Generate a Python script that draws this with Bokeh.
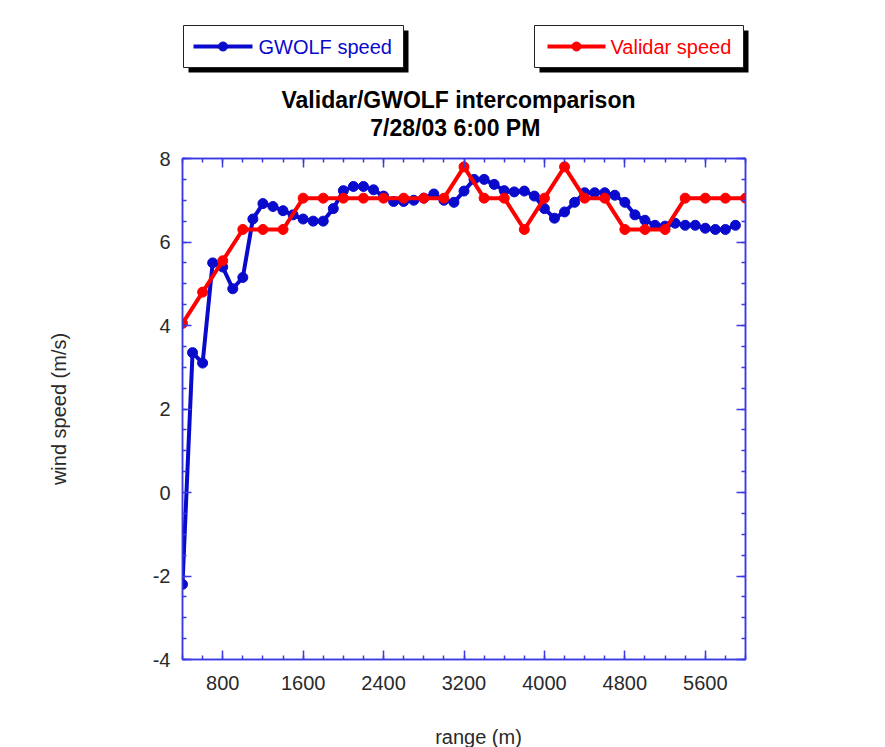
from bokeh.plotting import figure
from bokeh.models import Range1d, LinearAxis, SingleIntervalTicker, PrintfTickFormatter
from bokeh.layouts import column
from bokeh.embed import file_html
from bokeh.resources import INLINE
from bokeh.core.properties import value

# ---------------- data ----------------
gwolf_range = [400, 500, 600, 700, 800, 900, 1000, 1100, 1200, 1300, 1400, 1500,
               1600, 1700, 1800, 1900, 2000, 2100, 2200, 2300, 2400, 2500, 2600,
               2700, 2800, 2900, 3000, 3100, 3200, 3300, 3400, 3500, 3600, 3700,
               3800, 3900, 4000, 4100, 4200, 4300, 4400, 4500, 4600, 4700, 4800,
               4900, 5000, 5100, 5200, 5300, 5400, 5500, 5600, 5700, 5800, 5900]
gwolf_speed = [-2.2, 3.35, 3.1, 5.5, 5.4, 4.88, 5.15, 6.55, 6.92, 6.85, 6.75, 6.65,
               6.55, 6.5, 6.5, 6.8, 7.23, 7.33, 7.33, 7.25, 7.1, 6.97, 6.97,
               7.0, 7.05, 7.15, 7.0, 6.95, 7.22, 7.5, 7.5, 7.38, 7.23, 7.2,
               7.22, 7.1, 6.8, 6.57, 6.72, 6.95, 7.18, 7.18, 7.18, 7.12, 6.95,
               6.65, 6.52, 6.4, 6.38, 6.45, 6.4, 6.4, 6.33, 6.3, 6.3, 6.4]

validar_range = [400, 600, 800, 1000, 1200, 1400, 1600, 1800, 2000, 2200, 2400,
                 2600, 2800, 3000, 3200, 3400, 3600, 3800, 4000, 4200, 4400, 4600,
                 4800, 5000, 5200, 5400, 5600, 5800, 6000]
validar_speed = [4.05, 4.8, 5.55, 6.3, 6.3, 6.3, 7.05, 7.05, 7.05, 7.05, 7.05,
                 7.05, 7.05, 7.05, 7.8, 7.05, 7.05, 6.3, 7.05, 7.8, 7.05, 7.05,
                 6.3, 6.3, 6.3, 7.05, 7.05, 7.05, 7.05]

series_labels = ["GWOLF speed", "Validar speed"]
title_lines = ["Validar/GWOLF intercomparison", "7/28/03  6:00 PM"]
x_label = "range (m)"
y_label = "wind speed (m/s)"

BLUE = "#0a0acc"
RED = "#ff0000"
AXC = "#3a3ae2"
FONT = "Liberation Sans"
TXT = "#2a2a2a"

W = 885
HEAD_H = 144
FOOT_H = 30
MAIN_H = 747 - HEAD_H - FOOT_H


def blank_panel(h):
    f = figure(width=W, height=h, x_range=Range1d(0, W), y_range=Range1d(h, 0),
               output_backend="svg", toolbar_location=None,
               x_axis_type=None, y_axis_type=None,
               min_border=0, min_border_left=0, min_border_right=0,
               min_border_top=0, min_border_bottom=0)
    f.frame_align = False
    f.outline_line_color = None
    f.grid.visible = False
    f.background_fill_color = "white"
    f.border_fill_color = "white"
    return f


# ---------------- header (legend boxes + title) ----------------
head = blank_panel(HEAD_H)

box_left = [183, 534]
box_right = [403, 743]
box_top = 25
box_bottom = 67
shadow = 5
sample_x0 = [193, 547]
sample_x1 = [252, 605]
text_x = [258, 610]
colors = [BLUE, RED]
mid_y = 46

head.quad(left=[l + shadow for l in box_left], right=[r + shadow for r in box_right],
          top=[box_top + shadow] * 2, bottom=[box_bottom + shadow] * 2,
          fill_color="black", line_color=None)
head.quad(left=box_left, right=box_right, top=[box_top] * 2, bottom=[box_bottom] * 2,
          fill_color="white", line_color="#222222", line_width=1)
for i in range(2):
    head.line([sample_x0[i], sample_x1[i]], [mid_y, mid_y], line_color=colors[i], line_width=4)
    head.scatter([(sample_x0[i] + sample_x1[i]) / 2], [mid_y], size=9,
                 fill_color=colors[i], line_color=colors[i])
head.text(x=text_x, y=[mid_y, mid_y], text=series_labels,
          text_font=value(FONT), text_font_size="20px", text_align="left",
          text_baseline="middle", text_color=colors)
head.text(x=[458, 458], y=[99, 127], text=title_lines,
          text_font=value(FONT), text_font_size="23px", text_font_style="bold",
          text_align="center", text_baseline="middle", text_color="black")

# ---------------- main plot ----------------
p = figure(width=W, height=MAIN_H, x_range=Range1d(400, 6000), y_range=Range1d(-4, 8),
           output_backend="svg", toolbar_location=None,
           min_border_left=182, min_border_right=140, min_border_top=14, min_border_bottom=58)
p.frame_align = False
p.grid.visible = False
p.outline_line_color = AXC
p.outline_line_width = 1.5
p.background_fill_color = "white"
p.border_fill_color = "white"


def style(ax, show_labels):
    ax.axis_line_color = AXC
    ax.axis_line_width = 1.5
    ax.major_tick_line_color = AXC
    ax.minor_tick_line_color = AXC
    ax.major_tick_line_width = 1.5
    ax.minor_tick_line_width = 1.5
    ax.major_tick_in = 9
    ax.major_tick_out = 0
    ax.minor_tick_in = 4
    ax.minor_tick_out = 0
    if show_labels:
        ax.major_label_text_font = FONT
        ax.major_label_text_font_size = "20px"
        ax.major_label_text_color = TXT
        ax.axis_label_text_font = FONT
        ax.axis_label_text_font_size = "20px"
        ax.axis_label_text_font_style = "normal"
        ax.axis_label_text_color = TXT
        ax.formatter = PrintfTickFormatter(format="%d")
    else:
        ax.major_label_text_font_size = "0px"
        ax.major_label_text_color = None
        ax.major_label_standoff = 0


xa = p.xaxis[0]
xa.ticker = SingleIntervalTicker(interval=800, num_minor_ticks=4)
style(xa, True)
xa.major_label_standoff = 16

ya = p.yaxis[0]
ya.ticker = SingleIntervalTicker(interval=2, num_minor_ticks=4)
ya.axis_label = y_label
style(ya, True)
ya.major_label_standoff = 12
ya.axis_label_standoff = 80

top_ax = LinearAxis(ticker=SingleIntervalTicker(interval=800, num_minor_ticks=4))
style(top_ax, False)
p.add_layout(top_ax, "above")
right_ax = LinearAxis(ticker=SingleIntervalTicker(interval=2, num_minor_ticks=4))
style(right_ax, False)
p.add_layout(right_ax, "right")

p.line(gwolf_range, gwolf_speed, line_color=BLUE, line_width=4, line_join="round")
p.scatter(gwolf_range, gwolf_speed, size=10, fill_color=BLUE, line_color=BLUE)
p.line(validar_range, validar_speed, line_color=RED, line_width=4, line_join="round")
p.scatter(validar_range, validar_speed, size=10, fill_color=RED, line_color=RED)

# ---------------- footer (x-axis title) ----------------
foot = blank_panel(FOOT_H)
foot.text(x=[478], y=[19], text=[x_label],
          text_font=value(FONT), text_font_size="20px", text_align="center",
          text_baseline="middle", text_color=TXT)

layout = column(head, p, foot, spacing=0)
open("out.html", "w").write(file_html(layout, INLINE))
